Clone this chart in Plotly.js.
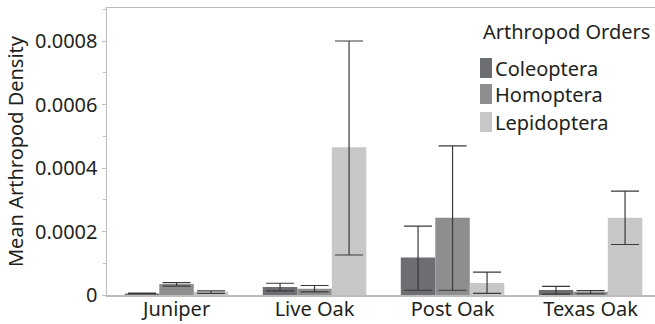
<!DOCTYPE html>
<html><head><meta charset="utf-8">
<script src="https://cdn.plot.ly/plotly-3.0.1.min.js"></script>
<style>body{margin:0;padding:0;background:#fff}#chart{width:655px;height:324px}</style>
</head><body><div id="chart"></div>
<script>
const categories = ["Juniper", "Live Oak", "Post Oak", "Texas Oak"];
const seriesNames = ["Coleoptera", "Homoptera", "Lepidoptera"];
const coleoptera = [0.000005, 0.000025, 0.000118, 0.000016];
const coleopteraHi = [0.000006, 0.000037, 0.000217, 0.000027];
const coleopteraLo = [0.000004, 0.000013, 0.000015, 0.000003];
const homoptera = [0.000035, 0.00002, 0.000243, 0.00001];
const homopteraHi = [0.000039, 0.00003, 0.00047, 0.000014];
const homopteraLo = [0.000028, 0.00001, 0.000015, 0.000004];
const lepidoptera = [0.00001, 0.000465, 0.000038, 0.000243];
const lepidopteraHi = [0.000013, 0.0008, 0.000072, 0.000327];
const lepidopteraLo = [0.000005, 0.000126, 0.000005, 0.000159];
const colors = ["#6d6e71", "#8e8e90", "#c6c7c8"];
const legendTitle = "Arthropod Orders";

function mk(name, vals, hi, lo, color) {
  return {
    type: "bar", name: name, x: categories, y: vals,
    marker: {color: color, line: {width: 0}},
    error_y: {type: "data", symmetric: false,
      array: vals.map((v, i) => hi[i] - v),
      arrayminus: vals.map((v, i) => v - lo[i]),
      color: "#3a3a3a", thickness: 1.2, width: 14}
  };
}
const data = [
  mk(seriesNames[0], coleoptera, coleopteraHi, coleopteraLo, colors[0]),
  mk(seriesNames[1], homoptera, homopteraHi, homopteraLo, colors[1]),
  mk(seriesNames[2], lepidoptera, lepidopteraHi, lepidopteraLo, colors[2])
];
const font = "Noto Sans, sans-serif";
const W = 655, H = 324, L = 107, R = 0, T = 8, B = 29;
const px = x => (x - L) / (W - L - R);
const py = y => 1 - (y - T) / (H - T - B);

// custom legend (positioned in paper coordinates)
const annotations = [{
  xref: "paper", yref: "paper", x: px(481), y: py(32), xanchor: "left", yanchor: "middle",
  text: legendTitle, showarrow: false, font: {size: 20, color: "#231f20"}
}];
const shapes = [];
const rowY = [68, 94, 122];
seriesNames.forEach((n, i) => {
  annotations.push({xref: "paper", yref: "paper", x: px(493), y: py(rowY[i]), xanchor: "left",
    yanchor: "middle", text: n, showarrow: false, font: {size: 20, color: "#231f20"}});
  shapes.push({type: "rect", xref: "paper", yref: "paper", x0: px(480), x1: px(492),
    y0: py(rowY[i] - 10), y1: py(rowY[i] + 10), fillcolor: colors[i], line: {width: 0}});
});

const layout = {
  width: W, height: H,
  margin: {l: L, r: R, t: T, b: B},
  paper_bgcolor: "#fff", plot_bgcolor: "#fff",
  barmode: "group", bargap: 0.25, bargroupgap: 0,
  font: {family: font, color: "#231f20", size: 20},
  showlegend: false,
  annotations: annotations, shapes: shapes,
  xaxis: {range: [-0.504, 3.467], showline: true, linecolor: "#bdbdbd", linewidth: 1.5,
    mirror: true, ticks: "", tickfont: {size: 20}, showgrid: false, zeroline: false,
    ticklabelstandoff: -5},
  yaxis: {range: [0, 0.000904], dtick: 0.0002, tick0: 0, tickformat: ".4~f", showline: true,
    linecolor: "#bdbdbd", linewidth: 1.5, ticks: "outside", ticklen: 4, tickcolor: "#bdbdbd",
    showgrid: false, zeroline: false, tickfont: {size: 20},
    minor: {dtick: 0.0001, ticks: "outside", ticklen: 3, tickcolor: "#bdbdbd"},
    title: {text: "Mean Arthropod Density", font: {size: 20}, standoff: 6}}
};
Plotly.newPlot("chart", data, layout, {displayModeBar: false, staticPlot: true});
</script></body></html>
